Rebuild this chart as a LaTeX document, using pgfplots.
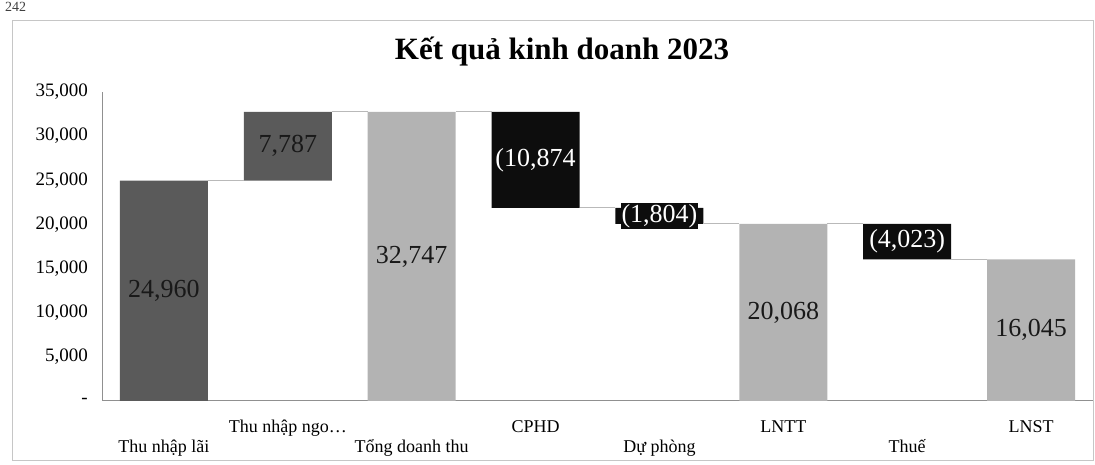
\documentclass[border=0pt]{standalone}
\usepackage{fontspec}
\setmainfont{Liberation Serif}
\usepackage{pgfplots}
\pgfplotsset{compat=1.18}
\definecolor{dgray}{HTML}{5A5A5A}
\definecolor{lgray}{HTML}{B3B3B3}
\definecolor{barblack}{HTML}{0D0D0D}
\definecolor{axisgray}{HTML}{909090}
\pgfplotsset{wf/.style={scale only axis, width=991pt, height=309pt, at={(102pt,64pt)}, anchor=south west, xmin=-0.5, xmax=7.5, ymin=0, ymax=35000, clip=false}}
\begin{document}
\begin{tikzpicture}[x=1pt,y=1pt]
\path[use as bounding box] (0,0) rectangle (1095,465);
\draw[gray!45, line width=0.8pt] (12,5) rectangle (1093,445);
\node[font=\fontsize{14}{16}\selectfont, text=black!75, anchor=north west, inner sep=1pt] at (4,464) {242};
\node[font=\fontsize{31}{34}\selectfont\bfseries] at (562,413) {Kết quả kinh doanh 2023};
\begin{axis}[wf, ybar stacked, bar width=88pt,
  axis x line*=bottom, axis y line*=left,
  axis line style={axisgray, line width=1pt, -},
  major tick length=0pt,
  scaled y ticks=false,
  /pgf/number format/assume math mode=true,
  ytick={0,5000,10000,15000,20000,25000,30000,35000},
  yticklabels={{-},{5,000},{10,000},{15,000},{20,000},{25,000},{30,000},{35,000}},
  yticklabel style={font=\fontsize{19}{21}\selectfont, anchor=east, inner sep=0pt, xshift=-14pt},
  xtick={0,2,4,6},
  xticklabels={Thu nhập lãi, Tổng doanh thu, Dự phòng, Thuế},
  xticklabel style={font=\fontsize{18}{20}\selectfont, anchor=base, inner sep=0pt, yshift=-52pt},
  extra x ticks={1,3,5,7},
  extra x tick labels={Thu nhập ngo…, CPHD, LNTT, LNST},
  extra x tick style={xticklabel style={yshift=20pt}},
]
\addplot[draw=none, fill=none, forget plot] coordinates {(0,0) (1,24960) (2,0) (3,21873) (4,20069) (5,0) (6,16045) (7,0)};
\addplot[fill=dgray, draw=none] coordinates {(0,24960) (1,7787) (2,0) (3,0) (4,0) (5,0) (6,0) (7,0)};
\addplot[fill=lgray, draw=none] coordinates {(0,0) (1,0) (2,32747) (3,0) (4,0) (5,20068) (6,0) (7,16045)};
\addplot[fill=barblack, draw=none] coordinates {(0,0) (1,0) (2,0) (3,10874) (4,1804) (5,0) (6,4023) (7,0)};
\end{axis}
\begin{axis}[wf, hide axis]
\addplot[gray!55, line width=0.8pt, unbounded coords=jump] coordinates {
 (0.355,24960) (0.645,24960) (0.7,nan)
 (1.355,32747) (1.645,32747) (1.7,nan)
 (2.355,32747) (2.645,32747) (2.7,nan)
 (3.355,21873) (3.645,21873) (3.7,nan)
 (4.355,20069) (4.645,20069) (4.7,nan)
 (5.355,20068) (5.645,20068) (5.7,nan)
 (6.355,16045) (6.645,16045)};
\addplot[axisgray, line width=1pt, mark=none] coordinates {(-0.5,0) (-0.5,35000)};
\addplot[only marks, mark=none, nodes near coords, point meta=explicit symbolic,
  every node near coord/.append style={anchor=center, font=\fontsize{26}{28}\selectfont, text=black!90}]
  table[meta=label] {
x y label
0 12480 24,960
1 28853 7,787
2 16373 32,747
5 10034 20,068
7 8022 16,045
};
\addplot[only marks, mark=none, nodes near coords, point meta=explicit symbolic,
  every node near coord/.append style={anchor=center, font=\fontsize{26}{28}\selectfont, text=white, fill=barblack, inner sep=1pt}]
  table[meta=label] {
x y label
3 27310 (10,874
4 20971 (1,804)
6 18056 (4,023)
};
\end{axis}
\end{tikzpicture}
\end{document}
